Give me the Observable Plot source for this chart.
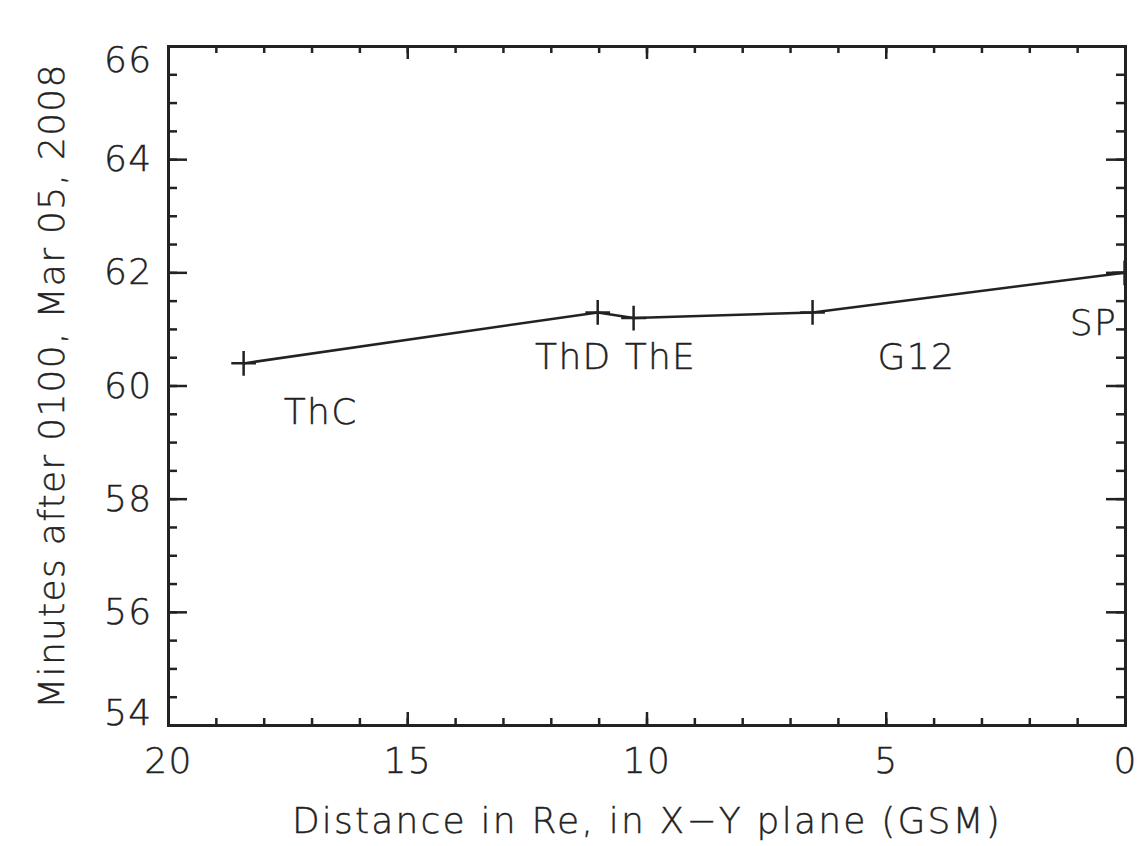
<!DOCTYPE html>
<html><head><meta charset="utf-8">
<script src="https://cdn.jsdelivr.net/npm/d3@7"></script>
<script src="https://cdn.jsdelivr.net/npm/@observablehq/plot@0.6"></script>
<style>
body{margin:0;background:#fff;}
svg{font-family:"DejaVu Sans",sans-serif;}
svg text{letter-spacing:1.3px;stroke:#222;stroke-width:0.4px;}
g[aria-label="x-axis label"] text{letter-spacing:2.2px;}
</style>
</head><body><div id="chart"></div>
<script>
const stations = ["ThC","ThD","ThE","G12","SP"];
const distance = [18.43, 11.03, 10.28, 6.54, 0.02];
const minutes = [60.4, 61.3, 61.2, 61.3, 62.0];
const labelX = [16.82, 11.54, 9.72, 4.37, 0.67];
const labelY = [59.53, 60.5, 60.5, 60.5, 61.1];
const xMajor = [20, 15, 10, 5, 0];
const xMinor = d3.range(0, 21, 1);
const yMajor = [54, 56, 58, 60, 62, 64, 66];
const yMinor = d3.range(54, 66.01, 0.5);

const W = 1137, H = 846, mL = 168, mR = 12, mT = 46, mB = 121;
const fw = W - mL - mR, fh = H - mT - mB;
const ink = "#222";
const fw8 = 300;

const pts = stations.map((s, i) => ({s, x: distance[i], y: minutes[i], lx: labelX[i], ly: labelY[i]}));

const ticksX = (data, len) => [
  Plot.tickX(data, {x: d => d, insetTop: fh - len, stroke: ink, strokeWidth: 2.5}),
  Plot.tickX(data, {x: d => d, insetBottom: fh - len, stroke: ink, strokeWidth: 2.5})
];
const ticksY = (data, len) => [
  Plot.tickY(data, {y: d => d, insetRight: fw - len, stroke: ink, strokeWidth: 2.5}),
  Plot.tickY(data, {y: d => d, insetLeft: fw - len, stroke: ink, strokeWidth: 2.5})
];
const yMid = yMajor.filter(v => v !== 54 && v !== 66);

const chart = Plot.plot({
  width: W, height: H,
  marginLeft: mL, marginRight: mR, marginTop: mT, marginBottom: mB,
  style: {fontSize: "36px", color: ink, fontFamily: "DejaVu Sans", fontWeight: fw8},
  x: {domain: [20, 0], label: null},
  y: {domain: [54, 66], label: null},
  marks: [
    ...ticksX(xMinor, 7),
    ...ticksX(xMajor, 13),
    ...ticksY(yMinor, 9),
    ...ticksY(yMajor, 19),
    Plot.frame({stroke: ink, strokeWidth: 3}),
    Plot.axisX(xMajor, {anchor: "bottom", tickSize: 0, tickPadding: 22, tickFormat: d => String(d),
      label: "Distance in Re, in X\u2212Y plane (GSM)", labelArrow: "none", labelAnchor: "center", labelOffset: 107, fill: ink}),
    Plot.axisY(yMid, {anchor: "left", tickSize: 0, tickPadding: 16, tickFormat: d => String(d),
      label: "Minutes after 0100, Mar 05, 2008", labelArrow: "none", labelAnchor: "center", labelOffset: 130, fill: ink}),
    Plot.axisY([66], {anchor: "left", tickSize: 0, tickPadding: 16, tickFormat: d => String(d), dy: 14, label: null, fill: ink}),
    Plot.axisY([54], {anchor: "left", tickSize: 0, tickPadding: 16, tickFormat: d => String(d), dy: -12, label: null, fill: ink}),
    Plot.line(pts, {x: "x", y: "y", stroke: ink, strokeWidth: 2.5, clip: true}),
    Plot.dot(pts, {x: "x", y: "y", symbol: "plus", r: 8, stroke: ink, strokeWidth: 2.5, clip: true}),
    Plot.text(pts, {x: "lx", y: "ly", text: "s", fill: ink, fontSize: 36, fontWeight: fw8})
  ]
});
document.getElementById("chart").appendChild(chart);
</script>
</body></html>
